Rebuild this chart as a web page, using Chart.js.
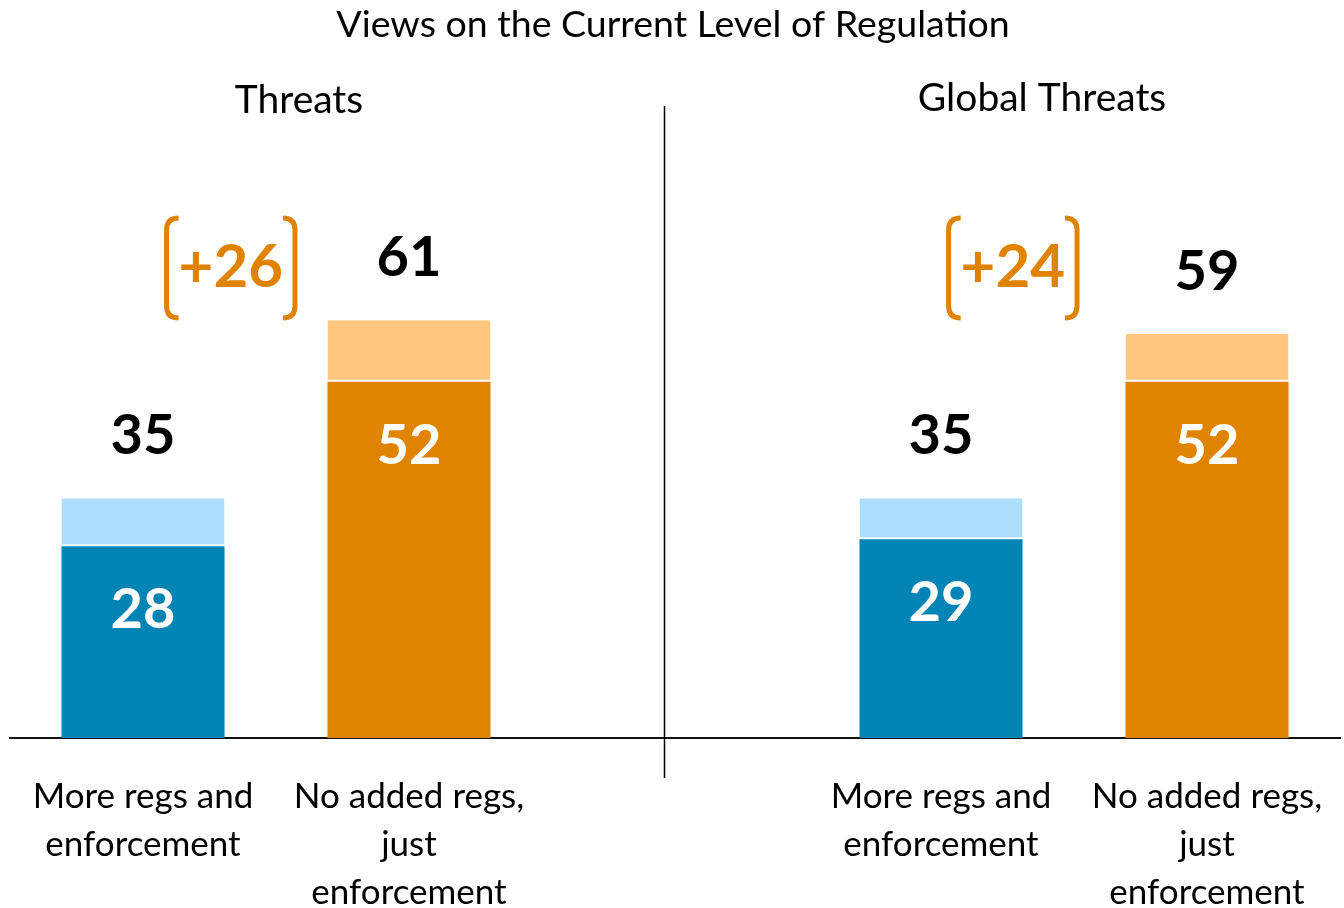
<!DOCTYPE html>
<html lang="en">
<head>
    <meta charset="UTF-8">
    <title>Views on the Current Level of Regulation</title>
    <style>
        body {
            margin: 0;
            background-color: #fff;
            overflow: hidden;
        }
        canvas {
            display: block;
        }
    </style>
</head>
<body>

<canvas id="regChart" width="1344" height="965"></canvas>

<script src="https://cdn.jsdelivr.net/npm/chart.js"></script>
<script>
    // categories (middle slot left empty as the gap between the two panels)
    const categories = [
        ['More regs and', 'enforcement'],
        ['No added regs,', 'just', 'enforcement'],
        '',
        ['More regs and', 'enforcement'],
        ['No added regs,', 'just', 'enforcement']
    ];
    const panelTitles = ['Threats', 'Global Threats'];

    // strong share (dark part) and total share (whole bar)
    const strongValues = [28, 52, null, 29, 52];
    const totalValues = [35, 61, null, 35, 59];

    // gap callouts
    const gapLabels = ['+26', '+24'];

    const darkColors = ['#0284B4', '#DF8300', null, '#0284B4', '#DF8300'];
    const lightColors = ['#AEDEFD', '#FFC87C', null, '#AEDEFD', '#FFC87C'];

    const FONT = 'Lato, "Open Sans", sans-serif';

    const topValues = totalValues.map((t, i) => t === null ? null : t - strongValues[i]);

    const labelPlugin = {
        id: 'labelPlugin',
        afterDatasetsDraw(chart) {
            const ctx = chart.ctx;
            const darkBars = chart.getDatasetMeta(0).data;
            const lightBars = chart.getDatasetMeta(1).data;

            ctx.save();
            ctx.textAlign = 'center';
            ctx.textBaseline = 'middle';

            // main title
            ctx.fillStyle = '#000';
            ctx.font = '37.5px ' + FONT;
            ctx.fillText('Views on the Current Level of Regulation', 673, 25);

            // panel titles
            ctx.font = '39px ' + FONT;
            ctx.fillText(panelTitles[0], 299, 100);
            ctx.fillText(panelTitles[1], 1042, 98);

            // divider between panels
            ctx.strokeStyle = '#000';
            ctx.lineWidth = 1.5;
            ctx.beginPath();
            ctx.moveTo(664.5, 106);
            ctx.lineTo(664.5, 778);
            ctx.stroke();

            // values
            ctx.font = 'bold 56px ' + FONT;
            for (let i = 0; i < totalValues.length; i++) {
                if (totalValues[i] === null) continue;
                const top = lightBars[i];
                const base = darkBars[i];
                ctx.fillStyle = '#000';
                ctx.fillText(totalValues[i], top.x, top.y - 62);
                ctx.fillStyle = '#fff';
                ctx.fillText(strongValues[i], base.x, base.y + 64);
            }

            // gap callouts with brackets
            const slots = [[0, 1, 0.33], [3, 4, 0.27]];
            ctx.strokeStyle = '#DF8300';
            ctx.fillStyle = '#DF8300';
            ctx.lineWidth = 5;
            slots.forEach((s, k) => {
                const cx = darkBars[s[0]].x + (darkBars[s[1]].x - darkBars[s[0]].x) * s[2];
                const cy = 268;
                ctx.font = 'bold 60px ' + FONT;
                ctx.fillText(gapLabels[k], cx, cy);
                const half = ctx.measureText(gapLabels[k]).width / 2 + 12;
                const h = 50;
                const r = 12;
                // left bracket
                ctx.beginPath();
                ctx.moveTo(cx - half + r, cy - h);
                ctx.quadraticCurveTo(cx - half, cy - h, cx - half, cy - h + r);
                ctx.lineTo(cx - half, cy + h - r);
                ctx.quadraticCurveTo(cx - half, cy + h, cx - half + r, cy + h);
                ctx.stroke();
                // right bracket
                ctx.beginPath();
                ctx.moveTo(cx + half - r, cy - h);
                ctx.quadraticCurveTo(cx + half, cy - h, cx + half, cy - h + r);
                ctx.lineTo(cx + half, cy + h - r);
                ctx.quadraticCurveTo(cx + half, cy + h, cx + half - r, cy + h);
                ctx.stroke();
            });
            ctx.restore();
        }
    };

    const config = {
        type: 'bar',
        data: {
            labels: categories,
            datasets: [
                {
                    label: 'Strong',
                    data: strongValues,
                    backgroundColor: darkColors,
                    borderWidth: 0
                },
                {
                    label: 'Total',
                    data: topValues,
                    backgroundColor: lightColors,
                    borderColor: '#fff',
                    borderWidth: { top: 0, left: 0, right: 0, bottom: 2 },
                    borderSkipped: false
                }
            ]
        },
        options: {
            responsive: false,
            animation: false,
            layout: {
                padding: { top: 190, left: 10, right: 4, bottom: 13 }
            },
            plugins: {
                legend: { display: false },
                tooltip: { enabled: false },
                title: { display: false }
            },
            datasets: {
                bar: {
                    categoryPercentage: 1,
                    barPercentage: 0.613
                }
            },
            scales: {
                x: {
                    stacked: true,
                    grid: { display: false, drawTicks: false },
                    border: { display: true, color: '#111', width: 2 },
                    ticks: {
                        color: '#000',
                        padding: 35,
                        maxRotation: 0,
                        autoSkip: false,
                        font: { family: FONT, size: 35, lineHeight: '48px' }
                    },
                    // labels fit inside their categories, no side padding needed
                    afterFit(scale) {
                        scale.paddingLeft = 0;
                        scale.paddingRight = 0;
                    }
                },
                y: {
                    stacked: true,
                    display: false,
                    min: 0,
                    max: 80
                }
            }
        },
        plugins: [labelPlugin]
    };

    new Chart(document.getElementById('regChart').getContext('2d'), config);
</script>

</body>
</html>
